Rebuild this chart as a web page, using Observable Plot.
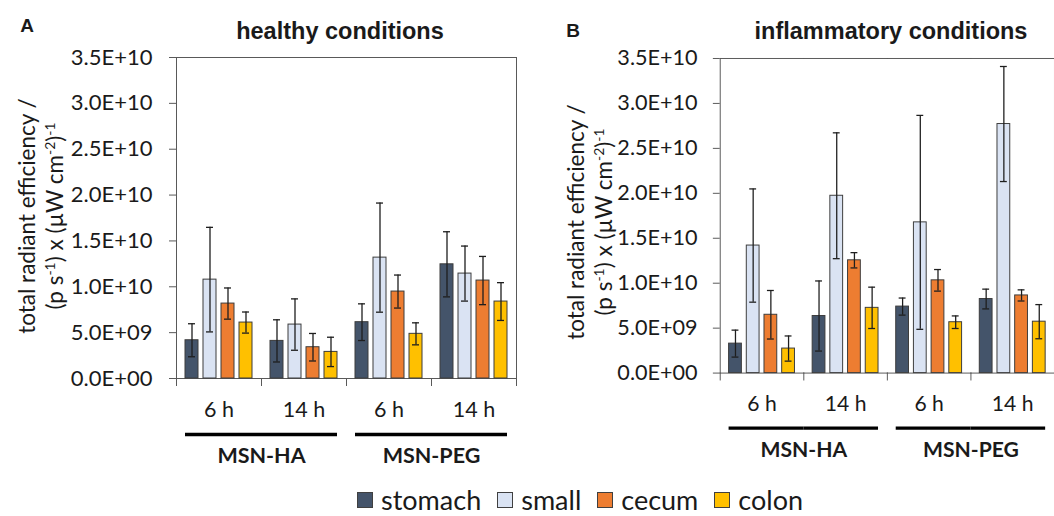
<!DOCTYPE html>
<html><head><meta charset="utf-8">
<script src="https://cdn.jsdelivr.net/npm/d3@7"></script>
<script src="https://cdn.jsdelivr.net/npm/@observablehq/plot@0.6"></script>
<style>
html,body{margin:0;padding:0;background:#fff;}
#wrap{position:relative;width:1054px;height:516px;overflow:hidden;background:#fff;font-family:Lato,sans-serif;color:#1a1a1a;}
.abs{position:absolute;}
.title{font-family:"Liberation Sans",Arial,sans-serif;font-weight:bold;font-size:23.5px;line-height:26px;white-space:nowrap;transform:translate(-50%,-50%);}
.letter{font-family:"Liberation Sans",Arial,sans-serif;font-weight:bold;font-size:19px;line-height:20px;transform:translate(-50%,-50%);}
.ylab{width:340px;text-align:center;font-size:22.5px;line-height:28px;white-space:nowrap;transform:translate(-50%,-50%) rotate(-90deg);}
.ylab sup{font-size:0.62em;line-height:0;vertical-align:0.6em;}
.legend{display:flex;align-items:center;font-size:27px;line-height:30px;height:30px;white-space:nowrap;}
.sw{width:16px;height:16px;border:1px solid #404040;margin-right:8px;box-sizing:border-box;}
.lt{margin-right:16px;}
.panel svg{overflow:visible;}
</style>
</head><body>
<div id="wrap">
  <div class="abs letter" style="left:27px;top:26px">A</div>
  <div class="abs letter" style="left:573px;top:31px">B</div>
  <div class="abs title" style="left:340px;top:31px">healthy conditions</div>
  <div class="abs title" style="left:891px;top:31px">inflammatory conditions</div>
  <div class="abs ylab" style="left:41px;top:216px">total radiant efficiency /<br>(p s<sup>-1</sup>) x (µW cm<sup>-2</sup>)<sup>-1</sup></div>
  <div class="abs ylab" style="left:590px;top:222px">total radiant efficiency /<br>(p s<sup>-1</sup>) x (µW cm<sup>-2</sup>)<sup>-1</sup></div>
  <div class="abs panel" id="pa" style="left:0;top:0"></div>
  <div class="abs panel" id="pb" style="left:530px;top:0"></div>
  <div class="abs legend" id="legend" style="left:357px;top:485px"></div>
</div>
<script>
// ---- data ----
const organs = ["stomach", "small", "cecum", "colon"];
const organColors = ["#44546A", "#DAE3F3", "#ED7D31", "#FFC000"];
const formulations = ["MSN-HA", "MSN-PEG"];
const times = ["6 h", "14 h"];
const yTicks = [0, 5e9, 1e10, 1.5e10, 2e10, 2.5e10, 3e10, 3.5e10];
const yTickLabels = ["0.0E+00", "5.0E+09", "1.0E+10", "1.5E+10", "2.0E+10", "2.5E+10", "3.0E+10", "3.5E+10"];

// rows: MSN-HA 6 h, MSN-HA 14 h, MSN-PEG 6 h, MSN-PEG 14 h ; columns: stomach, small, cecum, colon
const healthyMeans = [
  [4.17e9, 10.78e9, 8.17e9, 6.10e9],
  [4.10e9, 5.88e9, 3.41e9, 2.90e9],
  [6.14e9, 13.18e9, 9.48e9, 4.87e9],
  [12.45e9, 11.44e9, 10.68e9, 8.39e9]
];
const healthyErrors = [
  [1.8e9, 5.7e9, 1.7e9, 1.15e9],
  [2.3e9, 2.8e9, 1.5e9, 1.6e9],
  [2.0e9, 5.95e9, 1.8e9, 1.2e9],
  [3.55e9, 3.0e9, 2.63e9, 2.06e9]
];
const inflamedMeans = [
  [3.28e9, 14.19e9, 6.49e9, 2.73e9],
  [6.35e9, 19.73e9, 12.55e9, 7.26e9],
  [7.40e9, 16.77e9, 10.32e9, 5.66e9],
  [8.24e9, 27.71e9, 8.64e9, 5.72e9]
];
const inflamedErrors = [
  [1.5e9, 6.3e9, 2.7e9, 1.4e9],
  [3.9e9, 7.0e9, 0.85e9, 2.3e9],
  [0.95e9, 11.9e9, 1.2e9, 0.7e9],
  [1.1e9, 6.4e9, 0.62e9, 1.9e9]
];

// ---- build ----
const groups = formulations.flatMap(f => times.map(t => ({key: f + " · " + t, f, t})));
const groupKeys = groups.map(g => g.key);
const timeOf = new Map(groups.map(g => [g.key, g.t]));

function panel({means, errs, marginLeft, marginTop, plotH, marginRight, marginBottom, tickPadding}) {
  const rows = [];
  groups.forEach((g, gi) => organs.forEach((o, oi) =>
    rows.push({group: g.key, organ: o, value: means[gi][oi], err: errs[gi][oi]})));
  const sixKeys = groups.filter(g => g.t === times[0]).map(g => g.key);
  const fourteenKeys = groups.filter(g => g.t === times[1]).map(g => g.key);
  const plotW = 341;
  return Plot.plot({
    width: marginLeft + plotW + marginRight,
    height: marginTop + plotH + marginBottom,
    marginLeft, marginTop, marginRight, marginBottom,
    fx: {domain: groupKeys, padding: 0, label: null},
    x: {domain: organs, paddingInner: 0.28, paddingOuter: 0.5, axis: null},
    y: {domain: [0, 3.5e10], axis: null},
    color: {domain: organs, range: organColors},
    style: {fontFamily: "Lato, sans-serif", fontSize: "21px", color: "#1a1a1a", background: "transparent", overflow: "visible"},
    marks: [
      Plot.frame({anchor: "top", stroke: "#595959"}),
      Plot.frame({anchor: "bottom", stroke: "#595959"}),
      Plot.frame({anchor: "left", facetAnchor: "left", stroke: "#595959"}),
      Plot.frame({anchor: "right", facetAnchor: "right", stroke: "#595959"}),
      Plot.frame({anchor: "left", insetTop: plotH, insetBottom: -7, stroke: "#595959"}),
      Plot.frame({anchor: "right", facetAnchor: "right", insetTop: plotH, insetBottom: -7, stroke: "#595959"}),
      Plot.barY(rows, {fx: "group", x: "organ", y: "value", fill: "organ", stroke: "#3c3c3c", strokeWidth: 1}),
      Plot.ruleX(rows, {fx: "group", x: "organ", y1: d => d.value - d.err, y2: d => d.value + d.err, stroke: "#1e1e1e", strokeWidth: 1.3}),
      Plot.tickY(rows, {fx: "group", x: "organ", y: d => d.value - d.err, stroke: "#1e1e1e", strokeWidth: 1.3, insetLeft: 3, insetRight: 3}),
      Plot.tickY(rows, {fx: "group", x: "organ", y: d => d.value + d.err, stroke: "#1e1e1e", strokeWidth: 1.3, insetLeft: 3, insetRight: 3}),
      Plot.axisY({ticks: yTicks, tickFormat: d => yTickLabels[yTicks.indexOf(d)], tickSize: 7, tickPadding, label: null,
        stroke: "#595959", fill: "#1a1a1a", fontSize: 22}),
      Plot.axisFx({anchor: "bottom", tickSize: 0, tickPadding: 23, tickFormat: k => timeOf.get(k), fill: "#1a1a1a", fontSize: 21.5, label: null}),
      Plot.ruleY(sixKeys, {fx: d => d, y: () => 0, dy: 56, insetLeft: 9, stroke: "#000", strokeWidth: 3.5}),
      Plot.ruleY(fourteenKeys, {fx: d => d, y: () => 0, dy: 56, insetRight: 9, stroke: "#000", strokeWidth: 3.5}),
      Plot.text(formulations, {fx: f => f + " · " + times[0], frameAnchor: "right", y: () => 0, dy: 78, text: d => d,
        textAnchor: "middle", fontWeight: "bold", fontSize: 21.5, fill: "#1a1a1a"})
    ]
  });
}

document.getElementById("pa").append(panel({means: healthyMeans, errs: healthyErrors, marginLeft: 175, marginTop: 57, plotH: 321, marginRight: 14, marginBottom: 92, tickPadding: 17}));
document.getElementById("pb").append(panel({means: inflamedMeans, errs: inflamedErrors, marginLeft: 192, marginTop: 59, plotH: 320, marginRight: 0, marginBottom: 91, tickPadding: 16}));

// legend
const lg = document.getElementById("legend");
organs.forEach((o, i) => {
  const sw = document.createElement("div");
  sw.className = "sw";
  sw.style.background = organColors[i];
  const t = document.createElement("span");
  t.className = "lt";
  t.textContent = o;
  lg.append(sw, t);
});
</script>
</body></html>
